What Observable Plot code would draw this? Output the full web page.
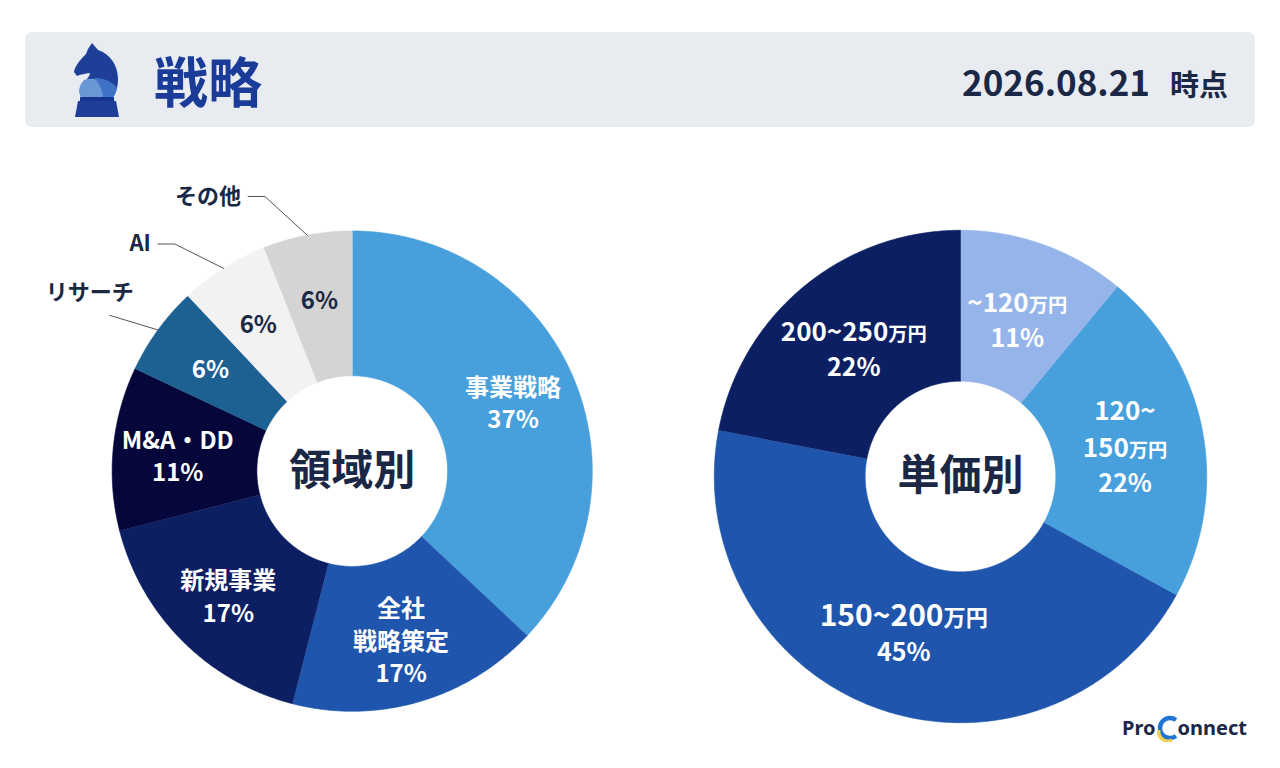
<!DOCTYPE html>
<html><head><meta charset="utf-8">
<script src="https://cdn.jsdelivr.net/npm/d3@7"></script>
<script src="https://cdn.jsdelivr.net/npm/@observablehq/plot@0.6"></script>
<style>
body{margin:0;width:1280px;height:768px;background:#fff;font-family:"Noto Sans CJK JP","Noto Sans",sans-serif;position:relative;overflow:hidden}
.header{position:absolute;left:25px;top:32px;width:1230px;height:95px;background:#E8ECF1;border-radius:7px}
.title{position:absolute;left:154px;top:53px;font-size:54px;line-height:54px;font-weight:700;color:#1B3B98}
.date{position:absolute;right:52px;top:63px;font-size:35px;line-height:35px;font-weight:700;color:#1B2845;white-space:nowrap}
.date span{font-size:29px;margin-left:20px}
#left,#right{position:absolute}
.logo{position:absolute;right:33px;top:714px;font-family:"Noto Sans","Noto Sans CJK JP",sans-serif;font-size:20px;line-height:28px;font-weight:700;color:#1B2845;display:flex;align-items:center;z-index:5}
.logo svg{margin:0 -3px 0 -1px}
</style></head>
<body>
<div class="header"></div>
<svg width="50" height="78" viewBox="0 0 50 78" style="position:absolute;left:72px;top:41px">
  <path d="M20 2 L26 9 C38 13 46 24 46 38 C46 46 44 52 41 56 L9 56 C6 50 8 44 13 40 C16 37 18 34 18 32 C13 33 9 33 5 35 L2 31 C3 25 8 19 14 13 L16 8 Z" fill="#1E3F98"/>
  <path d="M9 56 C6 50 7 44 12 39 C22 35 35 40 41 56 Z" fill="#6A98D6"/>
  <path d="M22 37 C32 36 42 42 45 47 C44 51 43 54 41 56 L31 56 C30 48 27 42 22 37 Z" fill="#3F71C4"/>
  <rect x="8" y="56" width="34" height="4" fill="#163590"/>
  <path d="M6 60 L44 60 L47 76 L3 76 Z" fill="#1E3F98"/>
</svg>
<div class="title">戦略</div>
<div class="date">2026.08.21<span>時点</span></div>
<div id="left"></div>
<div id="right"></div>
<div class="logo">Pro<svg width="26" height="28" viewBox="0 0 26 28"><path d="M21 6 A10 10 0 1 0 21 22" fill="none" stroke="#1F74D4" stroke-width="4.4"/><path d="M4 16 A9 9 0 0 0 17 26" fill="none" stroke="#F0CF55" stroke-width="3.4"/></svg>onnect</div>
<script>
// ---- data ----
const areaCategories = ["事業戦略", "全社\n戦略策定", "新規事業", "M&A・DD", "リサーチ", "AI", "その他"];
const areaValues = [37, 17, 17, 11, 6, 6, 6];
const areaColors = ["#479FDB", "#1F55AC", "#0C1F63", "#05073B", "#1D6092", "#F2F2F2", "#D4D4D4"];
const areaTitle = "領域別";

const priceCategories = ["~120万円", "120~\n150万円", "150~200万円", "200~250万円"];
const priceValues = [11, 22, 45, 22];
const priceColors = ["#95B5EA", "#479FDB", "#1F55AC", "#0C1F63"];
const priceTitle = "単価別";

const DARK = "#1B2845";
const SVGNS = "http://www.w3.org/2000/svg";
const rad = deg => deg * Math.PI / 180;

function donut({categories, values, colors, title, k, xDomain, yDomain, inner, labelR, fontSize, pctSize, lineHeight, titleSize}) {
  const rows = categories.map((c, i) => ({category: c, value: values[i], color: colors[i]}));
  const arcs = d3.pie().sort(null).value(d => d.value)(rows);
  const step = Math.PI / 360;
  const ring = [];
  arcs.forEach(a => {
    const n = Math.max(2, Math.ceil((a.endAngle - a.startAngle) / step));
    const ang = i => a.startAngle + (a.endAngle - a.startAngle) * i / n;
    for (let i = 0; i <= n; i++) ring.push({category: a.data.category, color: a.data.color, x: Math.sin(ang(i)), y: Math.cos(ang(i))});
    for (let i = n; i >= 0; i--) ring.push({category: a.data.category, color: a.data.color, x: inner * Math.sin(ang(i)), y: inner * Math.cos(ang(i))});
  });
  const isSmall = a => a.data.value < 10;
  const textFill = c => d3.hsl(c).l > 0.8 ? DARK : "#ffffff";
  const labels = arcs.map(a => {
    const m = (a.startAngle + a.endAngle) / 2;
    return {
      text: isSmall(a) ? `${a.data.value}%` : `${a.data.category}\n${a.data.value}%`,
      x: labelR * Math.sin(m), y: labelR * Math.cos(m),
      fill: textFill(a.data.color), size: fontSize(a.data.value)
    };
  });
  // leader lines for the small slices (names outside)
  const leaders = [], sideNames = [], topNames = [];
  arcs.filter(isSmall).forEach(a => {
    const m = (a.startAngle + a.endAngle) / 2;
    const sx = Math.sin(m) < 0 ? -1 : 1;
    const off = rad(9 * Math.abs(Math.cos(m)) - 2) * sx;
    const p0 = {x: Math.sin(m), y: Math.cos(m)};
    const p1 = {x: 1.2 * Math.sin(m + off), y: 1.2 * Math.cos(m + off)};
    const pts = [p0, p1];
    if (Math.abs(Math.sin(m)) > 0.75) {
      topNames.push({text: a.data.category, x: p1.x + 0.1, y: p1.y + 0.092});
    } else {
      const p2 = {x: p1.x + 0.07 * sx, y: p1.y};
      pts.push(p2);
      sideNames.push({text: a.data.category, x: p2.x + 0.03 * sx, y: p2.y, side: sx});
    }
    pts.forEach(p => leaders.push({...p, category: a.data.category}));
  });
  const W = Math.round((xDomain[1] - xDomain[0]) * k);
  const H = Math.round((yDomain[1] - yDomain[0]) * k);
  const nameStyle = {x: "x", y: "y", text: "text", fill: DARK, fontSize: 22, fontWeight: 700};
  const svg = Plot.plot({
    width: W, height: H, margin: 0,
    x: {domain: xDomain, range: [0, W], axis: null},
    y: {domain: yDomain, range: [H, 0], axis: null},
    color: {type: "identity"},
    style: {fontFamily: '"Noto Sans CJK JP", "Noto Sans", sans-serif', background: "transparent", overflow: "visible"},
    marks: [
      Plot.line(ring, {x: "x", y: "y", z: "category", fill: "color", stroke: "color", strokeWidth: 0.6, curve: "linear"}),
      Plot.line(leaders, {x: "x", y: "y", z: "category", stroke: "#555", strokeWidth: 1}),
      Plot.text(labels, {x: "x", y: "y", text: "text", fill: "fill", fontSize: d => d.size, fontWeight: 700, lineHeight}),
      Plot.text(sideNames.filter(d => d.side < 0), {...nameStyle, textAnchor: "end"}),
      Plot.text(sideNames.filter(d => d.side > 0), {...nameStyle, textAnchor: "start"}),
      Plot.text(topNames, {...nameStyle, textAnchor: "end"}),
      Plot.text([{x: 0, y: 0, text: title}], {x: "x", y: "y", text: "text", fill: DARK, fontSize: titleSize, fontWeight: 700})
    ]
  });
  // percentage lines at their own size, smaller unit "万円"
  if (pctSize) svg.querySelectorAll("tspan").forEach(t => { if (/%$/.test(t.textContent)) t.setAttribute("font-size", pctSize + "px"); });
  const walker = document.createTreeWalker(svg, NodeFilter.SHOW_TEXT);
  const nodes = [];
  while (walker.nextNode()) if (walker.currentNode.nodeValue.includes("万円")) nodes.push(walker.currentNode);
  nodes.forEach(n => {
    const idx = n.nodeValue.indexOf("万円");
    const pre = n.nodeValue.slice(0, idx), post = n.nodeValue.slice(idx + 2);
    n.nodeValue = pre;
    const t = document.createElementNS(SVGNS, "tspan");
    t.setAttribute("font-size", "0.74em");
    t.textContent = "万円";
    n.parentNode.insertBefore(t, n.nextSibling);
    if (post) t.parentNode.insertBefore(document.createTextNode(post), t.nextSibling);
  });
  return {svg, offX: -xDomain[0] * k, offY: yDomain[1] * k};
}

function place(id, chart, cx, cy) {
  const el = document.getElementById(id);
  el.style.left = (cx - chart.offX) + "px";
  el.style.top = (cy - chart.offY) + "px";
  el.appendChild(chart.svg);
}

const leftChart = donut({
  categories: areaCategories, values: areaValues, colors: areaColors, title: areaTitle,
  k: 240, xDomain: [-1.34, 1.08], yDomain: [-1.08, 1.26], inner: 0.397, labelR: 0.73,
  fontSize: () => 24, pctSize: null, lineHeight: 1.35, titleSize: 42
});
place("left", leftChart, 352, 470);

const rightChart = donut({
  categories: priceCategories, values: priceValues, colors: priceColors, title: priceTitle,
  k: 246, xDomain: [-1.06, 1.06], yDomain: [-1.06, 1.06], inner: 0.387, labelR: 0.68,
  fontSize: v => v >= 40 ? 30 : 26, pctSize: 25, lineHeight: 1.4, titleSize: 42
});
place("right", rightChart, 960, 476);
</script>
</body></html>
